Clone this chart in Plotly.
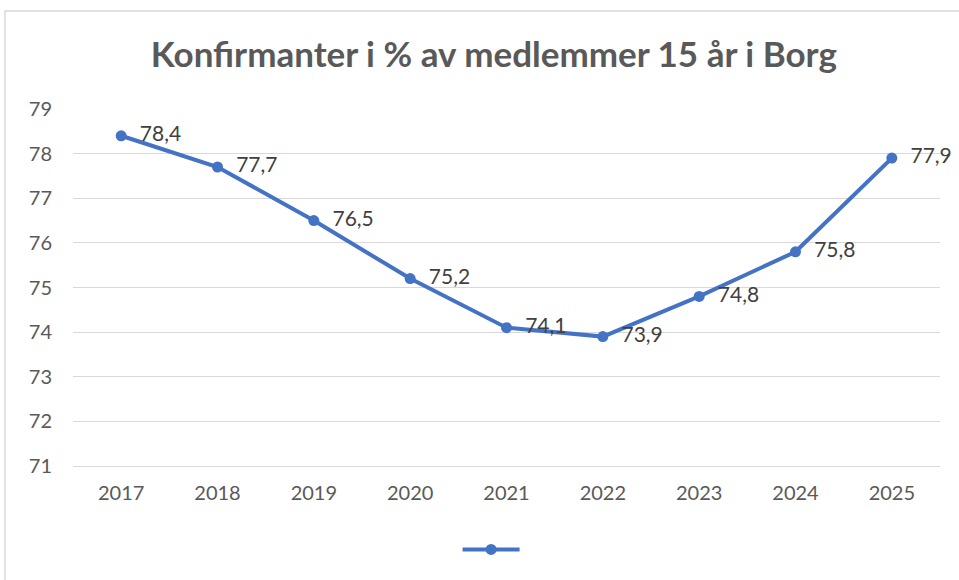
import plotly.graph_objects as go

years = ["2017", "2018", "2019", "2020", "2021", "2022", "2023", "2024", "2025"]
values = [78.4, 77.7, 76.5, 75.2, 74.1, 73.9, 74.8, 75.8, 77.9]
y_ticks = [71, 72, 73, 74, 75, 76, 77, 78, 79]
title_text = "Konfirmanter i % av medlemmer 15 år i Borg"

FONT = "Lato, 'Open Sans', sans-serif"
BLUE = "#4472C4"

fig = go.Figure()
fig.add_trace(go.Scatter(
    x=years, y=values, mode="lines+markers+text",
    name=" ",
    line=dict(color=BLUE, width=4),
    marker=dict(color=BLUE, size=11),
    texttemplate="  %{y:.1f}",
    textposition="middle right",
    textfont=dict(family=FONT, size=21, color="#404040"),
    showlegend=True,
    cliponaxis=False,
))

fig.update_layout(
    width=959, height=580,
    margin=dict(l=73, r=19, t=109, b=114),
    paper_bgcolor="white", plot_bgcolor="white",
    separators=", ",
    title=dict(text="<b>" + title_text + "</b>", x=0.515, xanchor="center",
               y=0.905, yanchor="middle",
               font=dict(family=FONT, size=35, color="#595959")),
    font=dict(family=FONT, color="#595959", size=20),
    xaxis=dict(type="category", range=[-0.5, 8.5], showgrid=False,
               showline=True, linecolor="#d9d9d9", linewidth=1,
               ticks="", ticklabelstandoff=9,
               tickfont=dict(size=20, color="#595959")),
    yaxis=dict(range=[71, 79], tickvals=y_ticks, showgrid=True,
               gridcolor="#d9d9d9", gridwidth=1, zeroline=False,
               showline=False, ticks="outside", ticklen=16,
               tickcolor="rgba(0,0,0,0)",
               tickfont=dict(size=20, color="#595959")),
    legend=dict(orientation="h", x=0.488, xanchor="center", y=-0.235,
                yanchor="middle", itemwidth=57, font=dict(size=17)),
    shapes=[dict(type="rect", xref="paper", yref="paper",
                 x0=-0.0785, x1=1.1, y0=-0.5, y1=1.2745,
                 line=dict(color="#d9d9d9", width=1.5),
                 fillcolor="rgba(0,0,0,0)", layer="below")],
)

fig.write_html("out.html", config={"displayModeBar": False},
               post_script="document.body.style.margin='0';document.body.style.overflow='hidden';")
